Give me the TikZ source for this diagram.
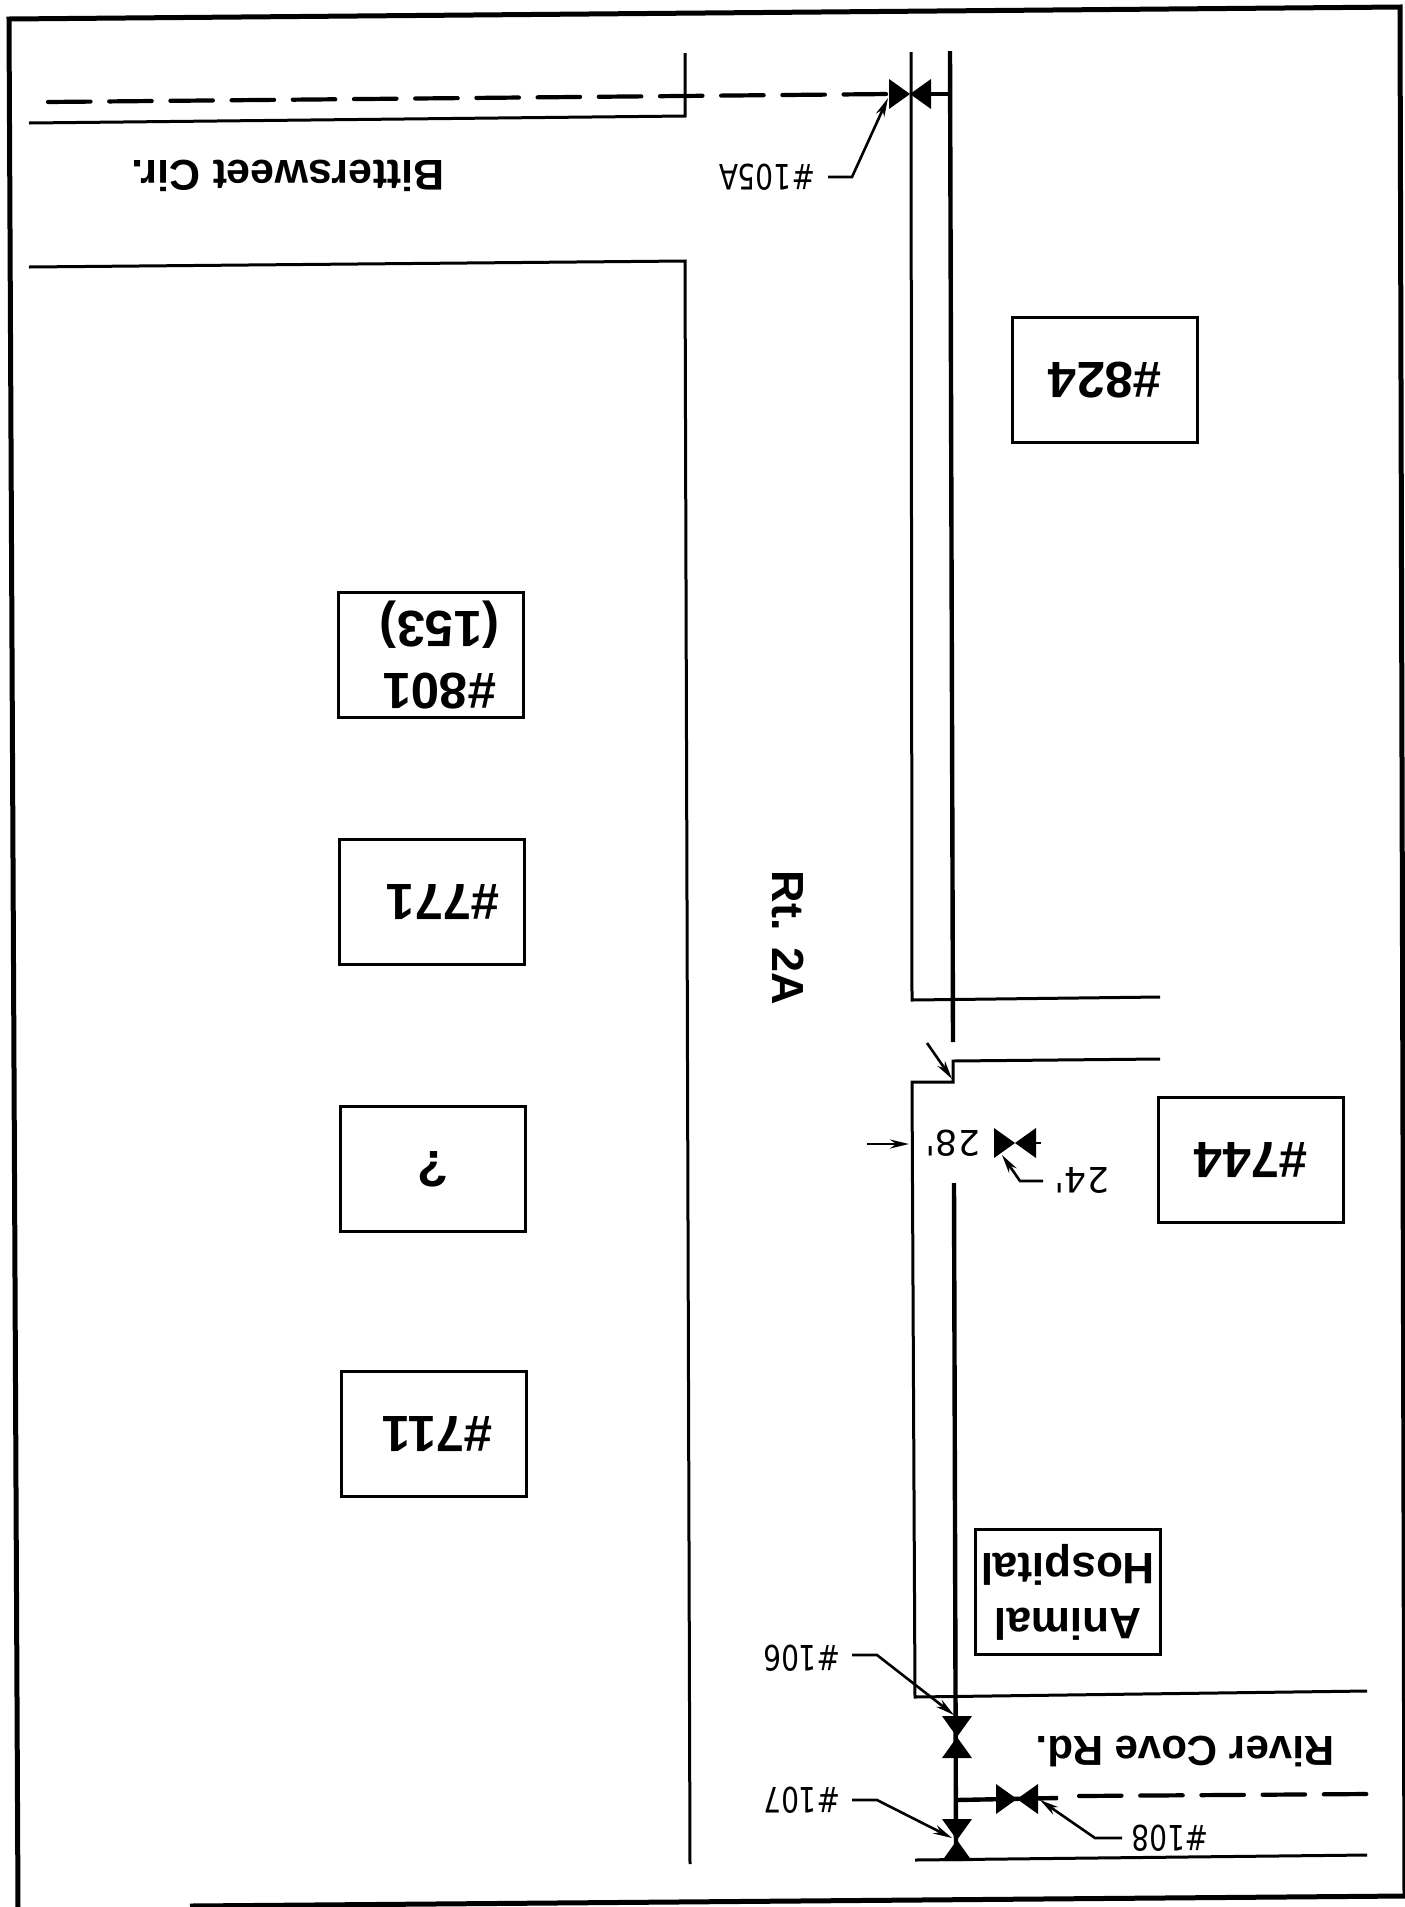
\documentclass[tikz,border=0pt]{standalone}
\usepackage{fontspec}
\setmainfont{Liberation Sans}
\newfontfamily\labelfont{DejaVu Sans}
\usetikzlibrary{arrows.meta}
\tikzset{
  x=1pt,y=-1pt,
  frameline/.style={line width=5pt,line join=miter},
  road/.style={line width=3pt},
  thick main/.style={line width=4.4pt},
  dashmain/.style={line width=4.2pt,dash pattern=on 42.5pt off 18.7pt,line cap=round},
  bldg/.style={draw,line width=2.8pt,minimum width=185pt,minimum height=125pt,inner sep=0pt,rotate=180,font=\bfseries\fontsize{51}{62}\selectfont,align=center},
  streetname/.style={rotate=180,font=\bfseries\fontsize{43}{46}\selectfont,inner sep=0pt},
  smalllabel/.style={rotate=180,xscale=.8,font=\labelfont\fontsize{35}{35}\selectfont,inner sep=0pt},
  dimlabel/.style={rotate=180,font=\labelfont\fontsize{35}{35}\selectfont,inner sep=0pt},
  leader/.style={line width=2.6pt,-{Stealth[length=19pt,width=9pt]}},
  bowtie/.pic={\fill[black] (-21,-15) -- (21,15) -- (21,-15) -- (-21,15) -- cycle;},
}
\begin{document}
\begin{tikzpicture}
\useasboundingbox (0,0) rectangle (1405,1907);
% frame
\draw[frameline] (18,1907) -- (9,19) -- (1400,7) -- (1405,1896) -- (190,1906);
% Bittersweet road
\draw[road] (685,53) -- (685,116) -- (29,123);
\draw[road] (29,267) -- (685,261) -- (690,1864);
% Rt 2A upper
\draw[road] (911,52) -- (912,1000) -- (1160,997);
\draw[thick main] (950,51) -- (953,1042);
\draw[road] (1160,1059) -- (953,1061) -- (953,1082) -- (912,1082) -- (915,1697) -- (1367,1691);
\draw[thick main] (954,1183) -- (956,1858);
\draw[road] (915,1860) -- (1367,1855);
% dashed mains
\draw[dashmain] (48,102) -- (890,94);
\draw[thick main] (930,94) -- (950,94);
\draw[thick main] (956,1800) -- (1058,1798);
\draw[dashmain] (1079,1796) -- (1367,1794);
\draw[line width=1.5pt] (1035,1143) -- (1041,1143);
% valves
\pic at (910,94) {bowtie};
\pic at (1015,1143) {bowtie};
\pic at (1017,1799) {bowtie};
\pic[rotate=90] at (957,1737) {bowtie};
\pic[rotate=90] at (957,1840) {bowtie};
% buildings
\node[bldg] (b824) at (1105,380) {\#824};
\node[bldg] (b801) at (431,655) {\#801\hspace*{17pt}\\(153)\hspace*{17pt}};
\node[bldg] (b771) at (432,902) {\#771\hspace*{22pt}};
\node[bldg] (bq) at (433,1169) {?};
\node[bldg] (b711) at (434,1434) {\#711\hspace*{7pt}};
\node[bldg] (b744) at (1251,1160) {\#744};
\node[bldg,font=\bfseries\fontsize{44}{55}\selectfont] (bah) at (1068,1592) {Animal\\Hospital};
% street names
\node[streetname] (bc) at (288,176) {Bittersweet Cir.};
\node[streetname,font=\bfseries\fontsize{42}{46}\selectfont] (rc) at (1185,1751) {River Cove Rd.};
\node[streetname,rotate=90,font=\bfseries\fontsize{45}{46}\selectfont] (rt) at (788,938) {Rt. 2A};
% labels
\node[smalllabel] (l105) at (767,177) {\#105A};
\node[smalllabel] (l106) at (802,1658) {\#106};
\node[smalllabel] (l107) at (802,1800) {\#107};
\node[smalllabel] (l108) at (1170,1838) {\#108};
\node[dimlabel] (l28) at (953,1143) {28'};
\node[dimlabel] (l24) at (1082,1180) {24'};
% leaders
\draw[leader] (828,177) -- (852,177) -- (888,98);
\draw[leader] (852,1655) -- (877,1655) -- (954,1715);
\draw[leader] (852,1800) -- (877,1800) -- (952,1838);
\draw[leader] (1122,1838) -- (1095,1838) -- (1040,1800);
\draw[leader] (1043,1181) -- (1020,1181) -- (1002,1155);
\draw[leader] (927,1043) -- (952,1079);
\draw[leader] (867,1144) -- (909,1144);
\end{tikzpicture}
\end{document}
